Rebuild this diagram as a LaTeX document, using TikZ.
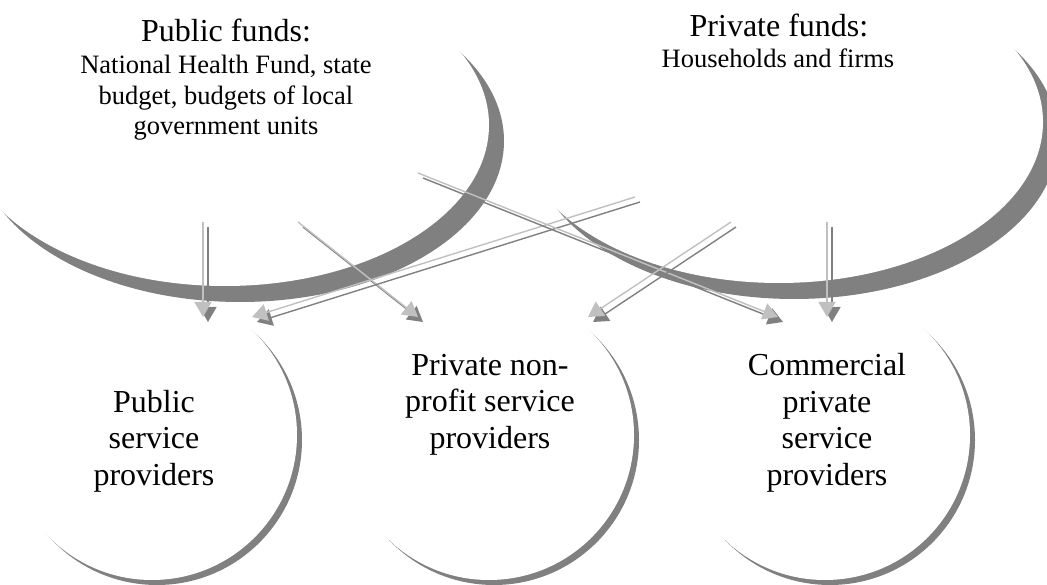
\documentclass[tikz,border=0pt]{standalone}
\usepackage{fontspec}
\setmainfont{Liberation Serif}
\usetikzlibrary{shapes.geometric,shadows,arrows.meta}
\definecolor{shade}{HTML}{808080}
\definecolor{flowlight}{HTML}{C0C0C0}
\definecolor{flowdark}{HTML}{808080}
\tikzset{
  fund/.style={ellipse, minimum width=528pt, minimum height=322pt, inner sep=0pt,
    fill=white, drop shadow={shadow xshift=15pt, shadow yshift=-16pt, opacity=1, fill=shade}},
  provider/.style={circle, minimum size=290pt, inner sep=0pt,
    fill=white, drop shadow={shadow xshift=5pt, shadow yshift=-5pt, opacity=1, fill=shade}},
  headline/.style={font=\fontsize{32}{36}\selectfont, anchor=base, inner sep=0pt},
  % multi-line texts are placed by the baseline of their last line
  subline/.style={font=\fontsize{26.5}{30.5}\selectfont, align=center, anchor=base, inner sep=0pt},
  provtext/.style={font=\fontsize{32}{36.5}\selectfont, align=center, anchor=base, inner sep=0pt},
  flowshadow/.style={draw=flowdark, line width=1.4pt, -{Triangle[width=17pt,length=15pt]}},
  flowmain/.style={draw=flowlight, line width=1.4pt, -{Triangle[width=17pt,length=15pt]}},
}
% a flow arrow: a dark copy offset down-right, the light arrow on top
\newcommand{\fundflow}[2]{%
  \draw[flowshadow] ([shift={(5,5)}]#1) -- ([shift={(5,5)}]#2);
  \draw[flowmain] (#1) -- (#2);}
\begin{document}
\begin{tikzpicture}[x=1pt,y=-1pt]
  \path[use as bounding box, clip] (0,0) rectangle (1047,585);

  % service providers
  \node[provider] (pubprov)  at (152,435) {};
  \node[provider] (npprov)   at (489,435) {};
  \node[provider] (comprov)  at (825,435) {};

  % sources of funds
  \node[fund] (pubfund)  at (225,125) {};
  \node[fund] (privfund) at (779,122) {};

  % texts of the sources
  \node[headline] (pubtitle)  at (226,42) {Public funds:};
  \node[subline]  (pubsub)    at (226,135) {National Health Fund, state\\budget, budgets of local\\government units};
  \node[headline] (privtitle) at (779,37) {Private funds:};
  \node[subline]  (privsub)   at (778,68) {Households and firms};

  % texts of the providers
  \node[provtext] (pubprovtxt) at (154,485) {Public\\service\\providers};
  \node[provtext] (npprovtxt)  at (490,448) {Private non-\\profit service\\providers};
  \node[provtext] (comprovtxt) at (827,485) {Commercial\\private\\service\\providers};

  % end points of the flows
  \coordinate (pubA)  at (203,222);
  \coordinate (pubB)  at (298,222);
  \coordinate (pubC)  at (418,173);
  \coordinate (privA) at (635,197);
  \coordinate (privB) at (731,222);
  \coordinate (privC) at (827,222);
  \coordinate (pubprovA) at (203,317);
  \coordinate (pubprovB) at (252,317);
  \coordinate (npprovA)  at (418,317);
  \coordinate (npprovB)  at (588,317);
  \coordinate (comprovA) at (778,317);
  \coordinate (comprovB) at (827,317);

  % flows of funds
  \fundflow{pubA}{pubprovA}
  \fundflow{pubB}{npprovA}
  \fundflow{privA}{pubprovB}
  \fundflow{pubC}{comprovA}
  \fundflow{privB}{npprovB}
  \fundflow{privC}{comprovB}
\end{tikzpicture}
\end{document}
